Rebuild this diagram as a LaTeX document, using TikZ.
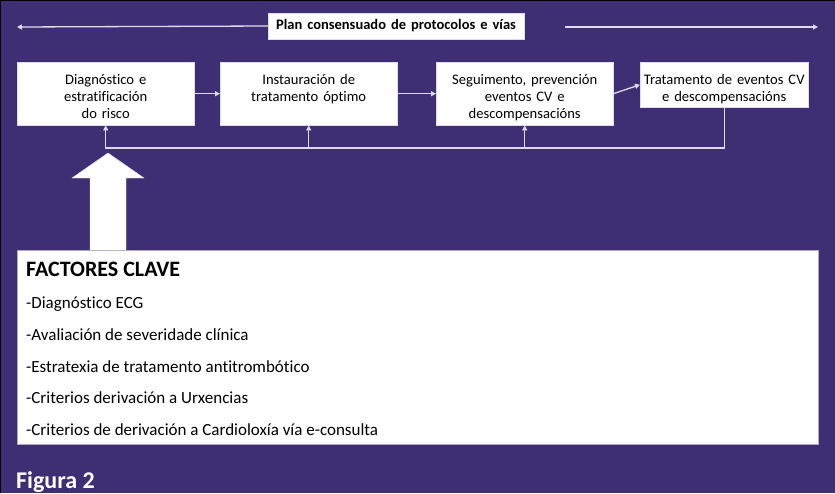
\documentclass[tikz,border=0pt]{standalone}
\usepackage{fontspec}
\setmainfont{Carlito}[Ligatures=NoCommon]
\usetikzlibrary{arrows.meta}
\definecolor{fondo}{RGB}{62,46,115}
\definecolor{trazo}{RGB}{222,220,234}

\tikzset{
  caixa/.style={draw=trazo, fill=white, anchor=north west, inner sep=0pt,
    align=center, text width=#1, font=\fontsize{14.6}{17}\selectfont},
  frecha/.style={draw=trazo, line width=1.3pt, -{Triangle[length=5pt,width=5pt]}},
  linha/.style={draw=trazo, line width=1.3pt}
}

\begin{document}
\begin{tikzpicture}[x=1pt,y=-1pt]
          \useasboundingbox (0,0) rectangle (835,493);
          \fill[fondo] (0,0) rectangle (835,493);
          \draw[black, line width=1.5pt] (0,493) -- (0,0) -- (835,0);

          % banda superior
          \node[draw=trazo, fill=white, minimum width=256pt, minimum height=26pt,
                font=\fontsize{14.5}{15}\selectfont\bfseries] (plan) at (396,26)
                {\spaceskip=5pt\relax Plan consensuado de protocolos e vías};
          \coordinate (fesq) at (17,27);
          \coordinate (fini) at (565,27);
          \coordinate (fdir) at (818,27);
          \draw[frecha] (plan.west) -- (fesq);
          \draw[frecha] (fini) -- (fdir);

          % caixas do proceso
          \node[caixa=177pt, text height=22pt, text depth=41pt] (diag) at (17,62)
                {Diagnóstico e\\estratificación\\do risco};
          \node[caixa=177pt, text height=22pt, text depth=41pt] (inst) at (220,62)
                {Instauración de\\tratamento óptimo};
          \node[caixa=177pt, text height=22pt, text depth=41pt] (segu) at (436,62)
                {Seguimento, prevención\\eventos CV e\\descompensacións};
          \node[caixa=168pt, text height=22pt, text depth=23pt] (trat) at (640,62)
                {Tratamento de eventos CV\\e descompensacións};

          \draw[frecha] (diag) -- (inst);
          \draw[frecha] (inst) -- (segu);
          \draw[frecha] (segu.east) -- (trat.west);

          % retorno
          \coordinate (volta) at (105,148);
          \draw[linha] (trat.south) |- (volta);
          \draw[frecha] (diag.south |- volta) -- (diag.south);
          \draw[frecha] (inst.south |- volta) -- (inst.south);
          \draw[frecha] (segu.south |- volta) -- (segu.south);

          % factores clave
          \node[draw=trazo!70!fondo, fill=white, anchor=north west, inner sep=0pt,
                minimum width=801pt, minimum height=194pt] (factores) at (17,250) {};
          \node[anchor=north west, inner sep=0pt, font=\fontsize{22}{22}\selectfont\bfseries]
                (titulo) at (26,262) {FACTORES CLAVE};
          \node[anchor=north west, inner sep=0pt, align=left,
                font=\fontsize{17}{31.6}\selectfont] (lista) at (26,297)
                {-Diagnóstico ECG\\
                 -Avaliación de severidade clínica\\
                 -Estratexia de tratamento antitrombótico\\
                 -Criterios derivación a Urxencias\\
                 -Criterios de derivación a Cardioloxía vía e-consulta};

          % frecha grande
          \filldraw[fill=white, draw=trazo] (90,250) -- (90,178) -- (72,178) -- (108,153)
                -- (144,178) -- (126,178) -- (126,250);

          \node[anchor=base west, inner sep=0pt, text=white,
                font=\fontsize{24}{24}\selectfont\bfseries] (figura) at (16,488) {Figura 2};
\end{tikzpicture}
\end{document}
